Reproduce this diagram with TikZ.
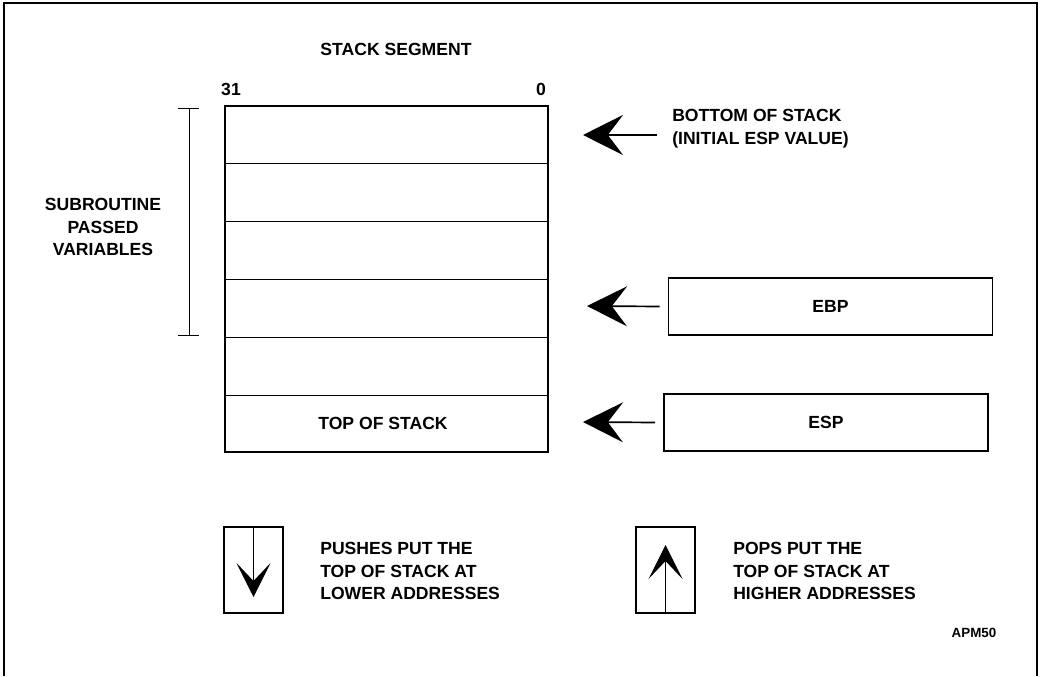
\documentclass[tikz,border=0pt]{standalone}
\usepackage{fontspec}
\setmainfont{Liberation Sans}
\usetikzlibrary{arrows.meta,positioning,calc}

\tikzset{
    caption/.style={font=\bfseries\fontsize{12.5}{16.3}\selectfont, inner sep=0pt},
    regbox/.style={draw, line width=1.3pt, minimum width=8.1cm, minimum height=1.43cm, caption},
    dirbox/.style={draw, line width=1.3pt, minimum width=1.47cm, minimum height=2.15cm},
    bigarrow/.style={line width=1.2pt, -{Stealth[length=1cm,width=1cm,inset=0.38cm]}},
    smallarrow/.style={line width=0.7pt, -{Stealth[length=0.85cm,width=0.85cm,inset=0.45cm]}}
}

\begin{document}
\begin{tikzpicture}[x=0.025cm,y=-0.025cm]

        \useasboundingbox (0,0) rectangle (1043,676);

        % --- Frame ---
        \draw[line width=1.4pt] (4,676) -- (4,3) -- (1037,3) -- (1037,676);

        % --- Stack ---
        \node[draw, line width=1.3pt, minimum width=8.075cm, minimum height=8.65cm] (stack) at (386.5,279) {};
        \foreach \i in {1,...,5}
            \draw[line width=0.6pt] ($(stack.north west)!\i/6!(stack.south west)$) -- ($(stack.north east)!\i/6!(stack.south east)$);

        \node[caption] (segment) at (396,49) {STACK SEGMENT};
        \node[caption] (msb) at (231,89) {31};
        \node[caption] (lsb) at (541,89) {0};
        \node[caption] (top) at (383,423) {TOP OF STACK};

        % Passed variables bracket
        \coordinate (brTop) at (189,108);
        \coordinate (brBot) at (189,335);
        \draw[line width=0.6pt] (brTop) -- (brBot);
        \draw[line width=0.6pt] ($(brTop)+(-11,0)$) -- ($(brTop)+(10,0)$);
        \draw[line width=0.6pt] ($(brBot)+(-11,0)$) -- ($(brBot)+(10,0)$);
        \node[caption, align=center] (params) at (103,227) {SUBROUTINE\\PASSED\\VARIABLES};

        % --- Pointers ---
        \coordinate (bottomTip) at (583,135);
        \coordinate (ebpTip) at (587,306);
        \coordinate (espTip) at (583,422);

        \node[caption, anchor=west, align=left] (bottom) at (672,129) {BOTTOM OF STACK\\(INITIAL ESP VALUE)};
        \draw[bigarrow] ($(bottom.west)+(-15,6)$) -- (bottomTip);

        \node[regbox] (ebp) at (830.5,306.5) {EBP};
        \draw[bigarrow] ($(ebp.west)+(-8,0)$) -- (ebpTip);

        \node[regbox] (esp) at (826,422.5) {ESP};
        \draw[bigarrow] ($(esp.west)+(-8,0)$) -- (espTip);

        % --- Push / pop legend ---
        \node[dirbox] (push) at (253.5,570) {};
        \coordinate (pushTip) at (253.5,597);
        \draw[smallarrow] (push.north) -- (pushTip);
        \node[caption, anchor=west, align=left] (pushText) at (320,571) {PUSHES PUT THE\\TOP OF STACK AT\\LOWER ADDRESSES};

        \node[dirbox] (pop) at (665.5,570) {};
        \coordinate (popTip) at (665.5,545);
        \draw[smallarrow] (pop.south) -- (popTip);
        \node[caption, anchor=west, align=left] (popText) at (733,571) {POPS PUT THE\\TOP OF STACK AT\\HIGHER ADDRESSES};

        \node[caption, font=\bfseries\fontsize{9.5}{11}\selectfont] (fig) at (974,633) {APM50};

\end{tikzpicture}
\end{document}
